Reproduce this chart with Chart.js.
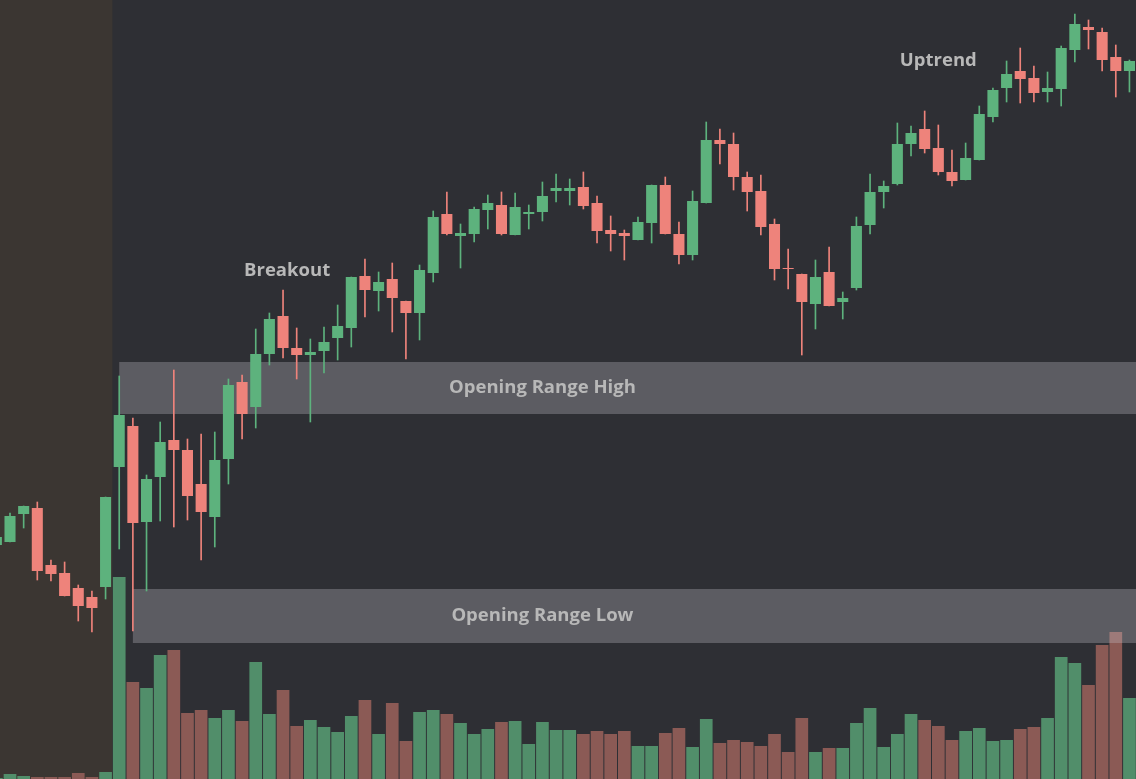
<!DOCTYPE html>
<html>
<head>
<meta charset="utf-8">
<title>Opening Range Breakout</title>
<script src="https://cdn.jsdelivr.net/npm/chart.js@4.4.1/dist/chart.umd.min.js"></script>
<style>
  html, body { margin: 0; padding: 0; background: #2e2f34; overflow: hidden; }
  #chart { display: block; }
</style>
</head>
<body>
<canvas id="chart" width="1136" height="779"></canvas>
<script>
// precios por vela (1 min), la vela 9 es la apertura
const opens = [123.4,123.7,126.5,127.1,121.4,120.6,119.1,118.2,119.2,131.2,
  135.3,125.7,130.2,133.9,132.9,129.5,126.2,132.0,139.7,137.2,
  142.5,146.3,143.1,142.4,142.8,144.1,145.1,150.3,148.8,150.0,
  147.8,146.6,150.6,156.5,154.3,154.5,156.9,157.4,154.4,156.5,
  156.7,158.8,158.8,159.2,157.6,154.9,154.6,153.9,155.6,159.4,
  154.5,152.4,157.6,163.9,163.5,160.2,158.8,155.5,151.1,150.5,
  147.5,150.7,147.7,149.1,155.4,158.7,159.5,163.5,165.0,163.1,
  160.7,159.9,161.9,166.2,169.1,170.8,170.1,168.7,169.0,172.9,
  175.2,174.7,172.2,170.8];
const highs = [124.5,126.6,127.3,127.7,121.9,121.7,119.4,118.8,128.2,140.3,
  136.1,130.4,135.7,140.9,134.0,134.5,134.7,140.0,140.4,145.0,
  146.6,148.9,145.1,144.0,145.2,147.4,150.2,152.0,150.7,151.6,
  147.8,151.4,156.8,158.7,155.5,157.2,158.4,158.7,158.6,157.4,
  159.7,160.5,160.0,160.7,158.3,156.3,154.9,156.2,159.4,160.2,
  155.7,158.8,165.7,165.0,164.6,160.7,160.4,156.0,153.0,150.5,
  151.9,153.2,148.7,156.2,160.5,159.8,165.6,165.3,166.8,165.4,
  162.9,163.6,167.3,169.1,171.8,173.1,171.3,170.7,173.3,176.5,
  175.9,175.1,173.4,171.9];
const lows = [123.1,123.7,125.1,119.9,119.8,118.3,115.8,114.7,118.0,123.0,
  114.8,118.8,125.8,125.2,125.9,121.9,123.2,129.5,134.0,135.1,
  141.4,142.1,140.0,135.7,140.6,141.9,143.2,146.2,146.8,144.7,
  142.0,143.9,149.7,154.4,151.1,153.7,155.0,154.4,154.4,155.0,
  155.8,157.7,157.4,157.0,153.6,152.8,151.9,153.9,153.6,154.5,
  151.5,151.9,157.6,161.5,158.9,156.8,154.4,149.9,149.0,142.4,
  145.0,147.3,146.0,148.9,154.5,157.1,159.4,162.3,162.6,160.4,
  159.3,159.9,161.9,165.7,167.7,167.6,167.7,167.7,167.3,171.7,
  173.0,170.8,168.2,168.7];
const closes = [124.2,126.3,127.3,120.8,120.5,118.3,117.3,117.1,128.2,136.4,
  125.6,130.0,133.7,132.9,128.3,126.7,131.9,139.4,136.5,142.5,
  146.0,143.1,142.4,142.7,143.7,145.3,150.2,148.9,149.7,148.1,
  146.6,150.9,156.2,154.5,154.6,157.0,157.6,154.5,157.2,156.7,
  158.3,159.1,159.1,157.3,154.8,154.5,154.3,155.7,159.4,154.5,
  152.4,157.8,163.9,163.5,160.2,158.7,155.2,151.0,151.0,147.7,
  150.2,147.3,148.1,155.3,158.7,159.3,163.5,164.6,163.0,160.7,
  159.8,162.1,166.5,168.9,170.5,170.0,168.6,169.1,173.1,175.5,
  174.9,171.9,170.8,171.8];
const volumes = [10,50,30,20,20,20,60,20,70,2020,
  970,910,1240,1290,660,690,610,690,580,1170,
  650,890,530,590,520,470,630,790,450,760,
  380,670,690,650,560,450,500,570,580,350,
  570,490,490,450,480,450,480,330,330,460,
  510,320,600,360,390,370,330,450,270,610,
  270,310,310,560,710,320,450,650,590,530,
  390,480,510,380,390,500,520,610,1220,1160,
  940,1340,1470,810];

// rango de apertura (alto y bajo)
const orHigh = [136.5, 141.7];
const orLow = [113.6, 119.0];
const preMarketEnd = 8.5;   // ultima vela del premarket + media vela
const orHighStart = 9;
const orLowStart = 10;

const etiquetas = [
  { text: 'Breakout', x: 21.3, y: 150.8 },
  { text: 'Uptrend', x: 69, y: 171.8 },
  { text: 'Opening Range High', x: 40, y: (orHigh[0] + orHigh[1]) / 2 },
  { text: 'Opening Range Low', x: 40, y: (orLow[0] + orLow[1]) / 2 }
];

const verde = '#5db27d';
const rojo = '#ee837b';
const verdeVol = '#518e6a';
const rojoVol = '#8b5a55';

const sube = opens.map((o, i) => closes[i] >= o);

const velas = opens.map((o, i) => ({ x: i, y: [o, closes[i]] }));
const mechas = opens.map((o, i) => ({ x: i, y: [lows[i], highs[i]] }));
const vol = volumes.map((v, i) => ({ x: i, y: v }));

// fondo, premarket y bandas del rango de apertura
const fondoPlugin = {
  id: 'fondo',
  beforeDraw(chart) {
    const { ctx, scales: { x } } = chart;
    ctx.save();
    ctx.fillStyle = '#2e2f34';
    ctx.fillRect(0, 0, chart.width, chart.height);
    ctx.fillStyle = '#3b3632';
    ctx.fillRect(0, 0, x.getPixelForValue(preMarketEnd), chart.height);
    ctx.restore();
  },
  afterDatasetDraw(chart, args) {
    if (args.index !== 0) return; // justo despues del volumen
    const { ctx, chartArea: a, scales: { x, y } } = chart;
    ctx.save();
    ctx.fillStyle = 'rgba(200, 200, 206, 0.3)';
    [[orHigh, orHighStart], [orLow, orLowStart]].forEach(([r, start]) => {
      const x0 = x.getPixelForValue(start);
      const top = y.getPixelForValue(r[1]);
      const bot = y.getPixelForValue(r[0]);
      ctx.fillRect(x0, top, a.right - x0, bot - top);
    });
    ctx.restore();
  },
  afterDraw(chart) {
    const { ctx, scales: { x, y } } = chart;
    ctx.save();
    ctx.font = 'bold 18.5px "Open Sans"';
    ctx.fillStyle = '#b8b8b8';
    ctx.textAlign = 'center';
    ctx.textBaseline = 'middle';
    etiquetas.forEach(e => {
      ctx.fillText(e.text, x.getPixelForValue(e.x), y.getPixelForValue(e.y));
    });
    ctx.restore();
  }
};

new Chart(document.getElementById('chart'), {
  type: 'bar',
  data: {
    datasets: [
      {
        label: 'Volumen',
        data: vol,
        yAxisID: 'yv',
        backgroundColor: sube.map(s => s ? verdeVol : rojoVol),
        barPercentage: 0.93,
        categoryPercentage: 1,
        grouped: false,
        order: 3
      },
      {
        label: 'Mechas',
        data: mechas,
        yAxisID: 'y',
        backgroundColor: sube.map(s => s ? verde : rojo),
        barThickness: 1,
        grouped: false,
        order: 2
      },
      {
        label: 'Velas',
        data: velas,
        yAxisID: 'y',
        backgroundColor: sube.map(s => s ? verde : rojo),
        barPercentage: 0.81,
        categoryPercentage: 1,
        minBarLength: 1,
        grouped: false,
        order: 1
      }
    ]
  },
  options: {
    responsive: false,
    animation: false,
    devicePixelRatio: 1,
    layout: { padding: 0 },
    plugins: {
      legend: { display: false },
      tooltip: { enabled: false },
      title: { display: false }
    },
    scales: {
      x: { type: 'linear', min: 0.267, max: 83.48, offset: false, display: false },
      y: { min: 100, max: 177.9, display: false },
      yv: { min: 0, max: 7790, display: false }
    }
  },
  plugins: [fondoPlugin]
});
</script>
</body>
</html>
